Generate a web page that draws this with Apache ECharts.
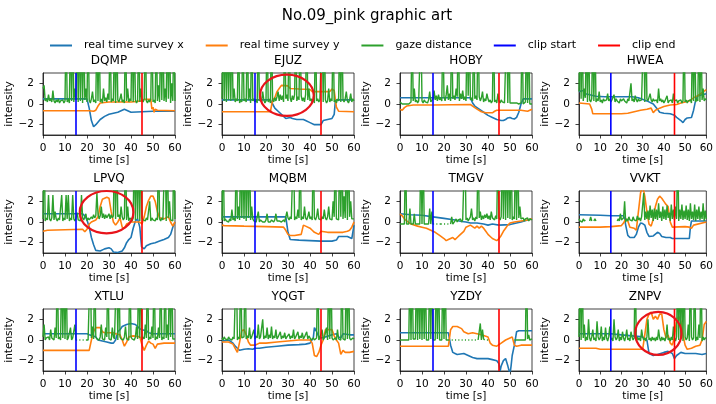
<!DOCTYPE html>
<html>
<head>
<meta charset="utf-8">
<script src="https://cdn.jsdelivr.net/npm/echarts@6/dist/echarts.min.js"></script>
<style>
html, body { margin: 0; padding: 0; background: #fff; }
#main { width: 716px; height: 404px; }
</style>
</head>
<body>
<div id="main"></div>
<script>
var panels = ['DQMP', 'EJUZ', 'HOBY', 'HWEA', 'LPVQ', 'MQBM', 'TMGV', 'VVKT', 'XTLU', 'YQGT', 'YZDY', 'ZNPV'];
var clipStart = 15;
var clipEnd = 45;
var yTicks = [-2, 0, 2];
var gazeStep = 0.5; // seconds between gaze samples

// real time survey x : [time, value] breakpoints
var sxDQMP = [[0,0.5],[20,0.5],[21,-0.4],[22,-1.6],[23,-2.2],[24,-2.0],[26,-1.5],[28,-1.2],[30,-1.0],[32,-0.9],[34,-0.8],[36,-0.6],[37,-0.5],[38,-0.6],[40,-0.8],[45,-0.75],[50,-0.7],[60,-0.7]];
var sxEJUZ = [[0,0.4],[22,0.4],[23,0.0],[24,-0.4],[26,-0.8],[28,-1.2],[29,-1.4],[30,-1.35],[31,-1.3],[32,-1.4],[34,-1.5],[37,-1.5],[38,-1.6],[40,-1.8],[42,-2.0],[45,-2.0],[46,-1.6],[48,-1.5],[50,-1.4],[51,-1.0],[51.5,0.2],[52,0.4],[60,0.4]];
var sxHOBY = [[0,0.6],[32,0.6],[33,0.1],[34,-0.2],[36,-0.5],[38,-0.8],[40,-1.1],[42,-1.3],[44,-1.5],[46,-1.6],[47,-1.6],[48,-1.5],[49,-1.35],[50,-1.3],[51,-1.4],[52,-1.45],[53,-1.3],[54,-0.8],[55,0.0],[56,0.5],[60,0.5]];
var sxHWEA = [[0,1.2],[2,1.3],[3,1.0],[5,0.9],[8,0.75],[12,0.7],[25,0.7],[28,0.6],[32,0.3],[35,0.0],[37,-0.5],[38,-0.8],[40,-0.9],[43,-0.95],[45,-1.1],[46,-1.3],[48,-1.6],[49,-1.8],[50,-1.5],[51,-1.35],[53,-1.3],[54,-0.6],[55,0.4],[56,0.8],[58,0.9],[60,1.0]];
var sxLPVQ = [[0,0.8],[18,0.8],[19,0.6],[20,0.2],[21,-0.5],[22,-1.5],[23,-2.2],[24,-2.75],[26,-2.8],[28,-2.6],[30,-2.5],[31,-2.6],[32,-2.9],[34,-2.95],[36,-2.8],[37,-2.5],[38,-2.0],[39,-1.7],[40,-1.5],[41,-0.6],[42,0.1],[43,0.3],[44,-0.5],[44.8,-2.4],[46,-2.6],[47,-2.3],[49,-2.1],[51,-2.0],[53,-1.85],[55,-1.7],[57,-1.5],[58,-1.2],[59,-0.5],[60,0.0]];
var sxMQBM = [[0,0.5],[29,0.5],[30,-1.0],[31,-1.7],[35,-1.75],[40,-1.8],[45,-1.85],[50,-1.85],[52,-1.75],[53,-1.4],[57,-1.4],[58,-1.5],[59,-1.6],[60,-0.3]];
var sxTMGV = [[0,0.8],[5,0.7],[10,0.65],[15,0.5],[20,0.35],[25,0.2],[28,0.05],[30,0.0],[32,-0.1],[35,-0.1],[38,-0.2],[40,-0.3],[42,-0.2],[45,-0.3],[50,-0.25],[55,0.0],[58,0.2],[60,0.3]];
var sxVVKT = [[0,0.7],[10,0.65],[15,0.6],[21,0.6],[21.5,0.3],[22,-0.3],[23,-1.3],[24,-1.5],[26,-1.5],[27,-1.2],[28,-0.5],[29,-0.1],[30,-0.15],[31,-0.3],[32,-1.0],[33,-1.4],[35,-1.35],[37,-1.0],[38,-1.1],[39,-1.4],[41,-1.5],[43,-1.5],[44,-1.6],[52,-1.6],[52.5,-0.5],[53,0.1],[60,0.1]];
var sxXTLU = [[0,0.6],[20,0.6],[21,0.5],[22,0.45],[24,0.3],[25,0.0],[27,-0.1],[29,-0.2],[31,-0.3],[32,-0.3],[33,0.0],[34,0.8],[35,1.0],[36,1.3],[38,1.5],[40,1.6],[42,1.5],[43,1.3],[44,1.1],[45,1.0],[47,0.9],[48,0.7],[50,0.6],[60,0.6]];
var sxYQGT = [[0,-0.1],[3,0.0],[5,-0.3],[6,-0.6],[7,-0.8],[8,-1.0],[9,-0.95],[10,-0.9],[12,-0.85],[14,-0.9],[15,-0.8],[17,-0.8],[20,-0.7],[25,-0.6],[30,-0.5],[35,-0.45],[38,-0.4],[40,-0.3],[41.5,0.2],[42,1.2],[43,0.8],[44,0.3],[45,0.2],[47,0.3],[50,0.5],[52,0.6],[53,0.3],[54,0.2],[55,0.6],[58,0.5],[60,0.5]];
var sxYZDY = [[0,0.7],[22,0.7],[23,-0.5],[24,-1.2],[25,-1.3],[26,-1.4],[29,-1.3],[30,-1.4],[32,-1.6],[33,-1.7],[35,-1.8],[40,-1.8],[42,-1.9],[44,-2.0],[45,-2.3],[45.5,-3.0],[46,-2.5],[47,-2.0],[48,-1.8],[49,-2.5],[50,-3.3],[50.5,-2.5],[51,-1.5],[52,-0.5],[53,0.8],[54,0.9],[60,0.9]];
var sxZNPV = [[0,0.6],[15,0.6],[20,0.5],[25,0.4],[30,0.3],[32,0.0],[33,-1.3],[35,-1.5],[37,-1.4],[40,-1.2],[42,-1.1],[44,-1.3],[45,-1.8],[46,-1.5],[48,-1.2],[50,-1.3],[55,-1.3],[58,-1.4],[60,-1.3]];

// real time survey y : [time, value] breakpoints
var syDQMP = [[0,-0.65],[21,-0.65],[23,-0.7],[24,-0.6],[25,-0.2],[26,0.1],[30,0.2],[40,0.2],[45,0.3],[46,0.45],[49,0.45],[49.5,-0.5],[50,-0.3],[50.5,-0.8],[51,-0.5],[52,-0.6],[60,-0.65]];
var syEJUZ = [[0,-0.75],[22,-0.75],[23,0.4],[24,0.6],[25,1.2],[26,1.5],[27,1.8],[30,1.75],[31,1.5],[35,1.45],[40,1.4],[41,1.2],[49,1.2],[50,1.45],[51,1.3],[52,-0.3],[53,-0.7],[60,-0.75]];
var syHOBY = [[0,-0.5],[1,-0.6],[2,-0.35],[3,-0.2],[6,-0.1],[15,-0.1],[32,-0.05],[33,-0.2],[35,-0.5],[37,-0.75],[39,-0.85],[42,-0.85],[43,-0.7],[44,-0.6],[50,-0.6],[55,-0.6],[58,-0.7],[60,-0.5]];
var syHWEA = [[0,0.1],[5,0.0],[6,-0.5],[6.5,-0.95],[20,-0.95],[23,-0.9],[26,-0.75],[29,-0.6],[32,-0.5],[34,-0.4],[35,-0.85],[36,-0.6],[38,-0.4],[40,-0.25],[43,-0.1],[46,-0.05],[48,0.1],[50,0.2],[52,0.3],[54,0.6],[56,0.8],[58,1.1],[60,1.4]];
var syLPVQ = [[0,-0.9],[2,-0.8],[10,-0.75],[18,-0.7],[19,-0.95],[20,-0.7],[21,-0.2],[22,0.0],[24,0.2],[25,0.5],[26,1.5],[27,2.2],[29,2.4],[30,2.3],[31,1.0],[32,0.0],[33,-0.3],[34,0.0],[35,0.4],[36,-0.5],[37,-0.6],[38,-0.2],[40,0.0],[44,0.0],[45,-0.2],[46,0.5],[47,1.5],[48,2.1],[49,2.5],[50,2.5],[51,2.0],[52,1.0],[53,0.4],[55,0.3],[57,0.5],[58,0.0],[59,-0.4],[60,0.0]];
var syMQBM = [[0,-0.3],[1,-0.35],[10,-0.4],[20,-0.45],[28,-0.5],[29,-0.8],[30,-1.2],[31,-1.3],[33,-1.3],[36,-1.2],[37,-0.3],[38,-0.4],[40,-0.6],[41,-0.8],[42,-1.0],[44,-1.2],[45,-0.9],[48,-1.0],[52,-1.0],[55,-1.0],[57,-0.9],[58,-0.8],[59,-0.5],[60,0.0]];
var syTMGV = [[0,0.8],[1,0.6],[2,0.3],[3,0.1],[5,-0.2],[8,-0.4],[10,-0.5],[12,-0.6],[14,-0.8],[16,-1.0],[18,-1.3],[20,-1.6],[21,-1.8],[22,-1.7],[24,-1.5],[25,-1.7],[26,-1.5],[27,-1.3],[29,-0.9],[30,-0.5],[32,-0.3],[34,-0.6],[35,-0.4],[36,-0.6],[37,-0.4],[38,-0.6],[39,-0.9],[40,-1.2],[41,-1.4],[42,-1.6],[44,-1.8],[45,-1.6],[46,-1.3],[47,-0.9],[48,-0.6],[49,-0.3],[50,-0.1],[52,0.0],[55,0.1],[58,0.2],[60,0.3]];
var syVVKT = [[0,-0.5],[10,-0.5],[15,-0.45],[20,-0.35],[21,-0.1],[22,0.3],[23,0.1],[24,-0.5],[26,-0.6],[27,-0.8],[28,1.0],[29,2.8],[30,3.5],[31,2.5],[32,1.0],[33,-0.2],[34,-0.4],[35,0.3],[36,1.5],[37,2.2],[38,2.5],[39,2.3],[40,2.0],[41,1.7],[42,1.5],[43,0.0],[44,-0.5],[50,-0.45],[52,-0.5],[53,-0.6],[54,-0.3],[60,0.0]];
var syXTLU = [[0,-1.0],[21,-1.0],[22,0.0],[23,0.8],[24,1.2],[26,1.2],[27,0.8],[28,0.7],[32,0.7],[33,0.6],[35,0.5],[36,0.0],[37,-0.6],[38,-0.2],[39,0.3],[41,0.4],[44,0.3],[45,-0.5],[46,-1.0],[47,-0.5],[48,-0.1],[49,-0.3],[50,-0.4],[51,-0.8],[52,-0.4],[55,-0.3],[60,-0.3]];
var syYQGT = [[0,-0.2],[3,-0.2],[5,-0.4],[6,-0.8],[7,-1.2],[8,-0.2],[9,0.9],[10,1.0],[11,0.5],[12,-0.2],[13,-0.5],[15,-0.5],[17,-0.3],[20,-0.3],[25,-0.2],[30,-0.1],[35,0.0],[40,0.0],[41,-0.3],[42,-1.5],[43,-1.6],[44,-1.2],[45,-0.5],[46,0.0],[47,1.0],[50,1.0],[51,0.4],[52,0.0],[53,-0.3],[54,-1.4],[55,-1.0],[56,-1.2],[58,-1.2],[60,-1.1]];
var syYZDY = [[0,-0.6],[22,-0.6],[23,1.0],[24,1.3],[26,1.3],[28,1.1],[29,0.8],[31,0.6],[33,0.7],[35,0.6],[37,0.5],[40,0.3],[41,-0.3],[42,-0.5],[44,-0.6],[46,-0.3],[48,0.0],[50,0.2],[51,0.3],[52,-0.5],[53,-0.6],[55,-0.5],[60,-0.5]];
var syZNPV = [[0,-0.8],[8,-0.8],[10,-0.9],[30,-0.9],[31,0.5],[32,2.0],[33,2.5],[34,2.7],[35,2.0],[36,2.3],[37,2.0],[38,2.5],[39,2.5],[40,1.0],[41,0.2],[42,0.5],[43,-0.3],[44,-0.5],[45,0.3],[46,2.0],[47,2.3],[48,1.8],[49,0.5],[50,-0.5],[51,-0.9],[53,-0.8],[55,-0.6],[57,-0.5],[58,0.0],[59,1.5],[60,1.8]];

// gaze distance : one value every 0.5 s from 0 to 60 s (10 values per row = 5 s)
var gzDQMP = [
  1.5,1.8,0.3,0.5,0.2,0.9,0.3,0.5,0.2,1.3,
  0.3,0.1,0.4,0.2,0.5,0.1,0.3,0.2,0.4,0.1,
  0.3,8,0.2,0.5,0.1,8,0.3,8,0.2,1.5,
  0.4,8,0.2,8,0.3,8,0.1,8,0.4,1.5,
  0.2,8,0.4,0.1,0.5,1.2,0.2,0.4,0.1,8,
  0.3,8,0.2,0.5,0.1,1.5,0.3,0.6,0.2,1.0,
  0.4,8,0.2,0.5,0.3,8,0.1,8,0.4,0.2,
  0.5,1.0,0.2,0.4,0.1,8,0.3,1.5,0.2,0.5,
  0.3,8,0.2,8,0.4,0.1,0.3,8,0.2,1.5,
  0.4,0.2,0.5,8,0.3,0.1,0.4,0.2,0.5,8,
  0.2,0.4,0.1,8,0.3,1.8,0.2,8,0.4,8,
  0.3,1.5,0.2,8,0.5,8,0.1,2.0,0.3,8,
  0.3];
var gzEJUZ = [
  0.5,8,0.3,8,0.2,8,0.4,8,0.3,8,
  0.4,1.5,0.2,0.5,0.3,8,0.1,0.4,0.2,8,
  0.3,0.5,0.2,8,0.4,1.5,0.1,8,0.3,0.5,
  0.2,0.4,0.1,8,0.3,0.5,0.2,1.2,0.4,0.1,
  0.3,8,0.2,0.5,0.1,8,0.4,0.2,0.6,0.3,
  0.7,1.2,0.3,0.9,0.4,0.8,0.2,8,0.5,0.9,
  0.3,8,0.6,0.2,0.8,0.4,0.9,8,0.3,0.7,
  0.4,8,0.8,0.3,0.6,0.2,0.9,8,0.4,1.5,
  0.3,0.5,0.2,0.4,0.1,8,0.3,0.5,0.2,0.4,
  0.3,8,0.2,8,0.4,0.1,0.3,1.5,0.2,0.5,
  0.3,8,0.2,0.4,0.1,0.5,0.3,8,0.2,8,
  0.4,0.2,0.5,1.2,0.3,0.1,0.4,1.0,0.2,0.5,
  0.3];
var gzHOBY = [
  0.2,0.1,0.0,0.1,0.0,0.1,0.0,0.1,0.0,0.1,
  0.2,8,0.3,1.5,0.2,0.4,0.1,0.3,0.2,8,
  0.3,0.1,0.4,0.2,0.3,0.1,0.4,1.2,0.2,0.3,
  0.5,1.3,0.4,0.8,0.3,0.9,0.4,0.6,0.3,8,
  0.7,0.3,0.9,1.8,0.4,1.0,0.3,8,0.5,0.8,
  0.4,1.5,0.7,8,0.3,1.0,0.5,1.3,0.4,0.7,
  0.3,8,0.8,8,0.4,0.6,0.3,8,0.5,0.8,
  0.4,8,0.7,0.3,0.6,1.2,0.2,0.5,0.3,1.0,
  0.5,0.2,0.4,0.1,0.3,8,0.2,0.4,0.1,1.0,
  0.3,0.1,0.4,0.2,0.3,0.1,0.2,8,0.1,8,
  0.1,0.0,0.1,0.2,0.1,0.0,0.1,0.2,0.0,0.1,
  0.1,8,0.0,0.1,0.2,8,0.1,8,0.0,0.1,
  0.0];
var gzHWEA = [
  1.2,8,0.5,8,0.3,1.5,0.6,8,0.2,8,
  0.4,0.2,0.5,8,0.3,8,0.2,0.5,0.3,1.2,
  0.2,0.4,0.1,0.5,0.3,0.2,0.4,1.0,0.3,0.5,
  0.2,0.4,0.3,0.9,0.2,0.5,0.3,0.4,0.1,0.5,
  0.3,0.2,0.5,0.3,0.4,0.1,0.5,0.3,0.2,2.0,
  0.3,0.5,0.2,0.8,0.4,0.2,0.5,0.3,0.2,0.4,
  0.3,8,0.2,8,0.5,0.3,0.2,1.0,0.4,0.2,
  0.5,0.3,0.2,0.4,0.1,1.5,0.3,0.5,0.2,0.4,
  0.1,0.3,0.2,0.8,0.1,0.3,0.2,0.4,0.1,1.0,
  0.3,0.2,0.4,0.1,0.3,0.2,0.4,0.1,0.3,8,
  0.2,0.4,0.1,0.3,0.2,0.4,0.1,8,0.3,8,
  0.2,0.5,0.3,8,0.2,8,0.4,1.5,0.3,0.5,
  0.4];
var gzLPVQ = [
  0.3,8,0.1,0.4,0.2,2.6,0.3,0.1,0.4,2.6,
  0.2,1.0,0.3,0.1,0.4,0.2,0.3,2.6,0.1,0.4,
  0.2,2.6,0.3,2.6,0.1,0.4,0.2,2.6,0.3,0.1,
  0.4,0.9,0.2,0.3,0.1,2.6,0.4,0.2,0.3,0.8,
  0.1,0.4,0.2,0.3,0.5,0.3,0.7,0.4,0.6,2.8,
  0.8,0.3,0.6,1.5,0.4,0.8,0.3,0.7,0.4,0.6,
  0.8,0.3,0.7,0.4,0.6,8,0.3,8,0.5,0.7,
  0.3,1.5,0.5,0.2,0.4,8,0.2,1.5,0.1,0.4,
  0.3,0.1,0.4,8,0.2,8,0.3,8,0.1,8,
  0.4,0.2,0.3,0.1,0.4,0.2,0.3,2.0,0.1,0.4,
  0.2,0.3,0.1,0.4,0.2,8,0.3,0.1,0.4,0.2,
  0.3,8,0.1,8,0.4,2.0,0.2,0.3,0.1,8,
  0.3];
var gzMQBM = [
  0.2,8,0.1,0.3,0.1,0.2,0.0,0.3,0.1,1.2,
  0.2,0.4,0.1,8,0.3,1.5,0.2,8,0.4,8,
  0.3,8,0.1,8,0.4,8,0.2,1.5,0.3,0.1,
  0.2,0.0,0.1,1.0,0.0,0.2,0.1,0.0,0.1,0.0,
  0.2,0.8,0.0,0.1,0.0,0.2,0.1,0.0,0.2,0.8,
  0.1,0.0,0.1,0.2,0.0,0.1,0.2,0.0,0.1,1.0,
  0.4,0.2,0.5,0.3,0.4,8,0.2,0.5,0.3,1.2,
  0.4,8,0.2,0.5,0.3,1.5,0.4,0.2,0.5,1.0,
  0.3,0.5,0.2,8,0.4,0.2,0.5,1.3,0.3,0.4,
  0.2,0.5,0.3,1.2,0.4,0.2,0.5,1.5,0.3,0.4,
  0.2,2.0,0.5,8,0.3,0.4,0.2,8,0.5,8,
  0.3,2.5,0.4,8,0.2,8,0.5,2.0,0.3,0.4,
  0.3];
var gzTMGV = [
  -0.2,-0.2,-0.2,-0.2,-0.2,8,-0.2,-0.2,-0.2,1.3,
  -0.2,-0.2,-0.2,0.8,-0.2,-0.2,-0.2,-0.2,-0.2,8,
  -0.2,8,-0.2,-0.2,-0.2,-0.2,-0.2,1.3,-0.2,1.0,
  -0.2,-0.2,null,-0.2,-0.2,null,-0.2,-0.2,-0.2,null,
  -0.2,-0.2,null,-0.2,-0.2,null,-0.2,0.5,-0.2,-0.2,
  0.1,0.3,0.0,0.2,0.1,0.3,0.0,0.2,0.1,8,
  0.2,0.4,0.1,0.3,0.5,1.3,0.2,0.4,0.1,0.5,
  0.3,8,0.4,1.0,0.2,0.6,0.3,0.7,0.4,0.8,
  0.3,0.6,0.2,1.0,0.4,0.5,0.2,0.6,0.3,8,
  0.4,0.2,0.5,8,0.3,8,0.2,8,0.4,8,
  0.3,8,0.2,0.5,0.3,8,0.2,8,0.4,1.5,
  0.3,0.2,0.4,0.1,0.3,0.2,0.4,0.1,0.3,0.2,
  0.2];
var gzVVKT = [
  0.3,0.1,0.2,0.0,0.3,0.1,0.2,null,null,null,
  0.1,0.5,0.1,null,0.1,0.3,0.1,null,null,null,
  null,null,null,null,null,null,null,null,null,null,
  null,null,null,null,null,null,0.1,0.3,0.1,0.8,
  0.2,0.1,0.4,2.0,0.0,0.3,0.1,0.5,0.2,0.3,
  0.1,0.5,0.2,0.3,0.1,0.6,0.2,0.4,0.1,0.5,
  0.6,2.8,0.2,1.0,0.3,1.1,0.2,1.6,0.4,1.2,
  0.1,1.3,0.3,1.2,0.2,1.8,0.4,1.0,0.1,1.5,
  0.3,1.2,0.2,1.6,0.4,0.9,0.1,1.7,0.3,1.2,
  0.2,1.5,0.3,8,0.1,1.2,0.3,1.7,0.2,1.1,
  0.3,1.6,0.2,1.2,0.1,1.8,0.3,1.0,0.2,1.7,
  0.1,1.2,0.3,1.5,0.2,1.0,0.3,1.8,0.1,1.1,
  0.3];
var gzXTLU = [
  0.3,1.5,0.0,0.2,0.1,0.3,0.0,1.0,0.2,0.1,
  0.0,1.2,0.2,8,0.1,0.3,0.0,8,0.2,8,
  0.1,8,0.0,0.2,0.1,1.2,0.0,0.2,0.1,1.5,
  0.0,0.0,null,0.0,0.0,null,0.0,0.0,null,0.0,
  0.0,0.0,0.1,8,0.2,1.3,0.1,8,0.3,0.1,
  0.2,0.0,0.3,1.5,0.1,0.2,0.0,1.2,0.3,8,
  0.1,0.2,0.0,1.2,0.3,0.1,0.2,8,0.0,8,
  0.3,0.1,0.2,0.0,0.3,1.3,0.1,0.2,0.0,8,
  0.3,0.1,0.2,0.0,0.3,1.3,0.1,8,0.2,8,
  0.0,0.3,0.1,1.5,0.2,8,0.0,0.3,0.1,1.3,
  0.2,8,0.0,0.3,0.1,1.2,0.2,8,0.0,0.3,
  0.1,8,0.2,1.5,0.0,8,0.3,8,0.1,0.2,
  0.1];
var gzYQGT = [
  0.2,0.0,0.3,0.1,0.2,0.0,0.3,0.1,0.2,0.0,
  0.3,0.1,0.2,8,0.0,0.3,0.1,8,0.2,0.1,
  0.3,8,0.1,0.4,0.2,1.2,0.1,0.3,0.2,1.0,
  0.1,0.4,0.2,1.5,0.1,0.3,0.2,2.0,0.1,0.4,
  0.2,1.2,0.1,0.5,0.2,1.3,0.1,0.4,0.2,1.0,
  0.1,0.3,0.2,0.8,0.1,0.4,0.2,0.7,0.1,0.3,
  0.2,0.6,0.1,0.4,0.2,1.0,0.1,0.3,0.2,0.8,
  0.1,0.4,0.2,0.7,0.1,0.3,0.2,0.8,0.1,0.4,
  0.2,0.0,0.1,0.2,0.0,0.1,0.2,8,0.0,0.2,
  0.1,1.0,0.0,0.2,0.1,1.2,0.0,8,0.1,8,
  0.2,0.0,0.1,0.2,0.0,1.0,0.1,0.2,0.0,8,
  0.1,0.2,0.0,8,0.1,8,0.2,0.0,0.1,0.2,
  0.1];
var gzYZDY = [
  0.0,0.1,0.0,0.1,0.0,0.1,0.0,0.1,0.0,8,
  0.0,8,0.1,0.0,0.1,8,0.0,8,0.1,8,
  0.0,8,0.1,8,0.0,0.1,0.0,8,0.1,8,
  0.0,0.1,0.0,8,0.1,8,0.0,0.1,0.0,8,
  0.1,8,0.0,0.1,0.0,0.0,null,0.0,0.0,null,
  0.0,0.0,null,0.0,0.0,null,0.0,0.0,null,0.0,
  0.0,null,0.0,0.0,null,0.0,0.0,null,0.0,0.0,
  null,0.0,0.1,1.6,0.0,1.0,0.1,0.0,null,0.0,
  0.0,null,null,null,null,null,null,null,null,null,
  null,null,null,null,null,null,null,null,null,null,
  null,null,null,null,0.0,0.1,0.0,0.1,0.0,0.1,
  0.0,0.1,0.0,0.1,0.0,8,0.1,0.5,0.0,0.1,
  0.1];
var gzZNPV = [
  0.3,8,0.0,8,0.2,1.5,-0.1,0.3,0.0,2.0,
  0.2,-0.1,0.3,1.0,0.0,0.2,-0.1,1.8,0.3,0.0,
  0.2,1.3,-0.1,0.3,0.0,1.2,0.2,-0.1,0.3,1.3,
  0.0,0.2,-0.1,2.0,0.3,0.0,0.2,1.0,-0.1,0.3,
  0.0,0.8,0.2,-0.1,0.3,1.0,0.0,0.2,-0.1,0.8,
  0.3,0.0,0.2,8,-0.1,0.3,0.0,0.2,-0.1,1.0,
  0.3,0.0,0.2,-0.1,0.3,2.0,0.0,0.2,-0.1,0.3,
  0.0,0.2,-0.1,0.3,0.0,1.0,0.2,-0.1,0.3,0.0,
  0.2,-0.1,0.3,1.5,0.0,0.2,-0.1,0.3,0.0,1.3,
  0.2,-0.1,0.3,8,0.0,8,0.2,8,-0.1,8,
  0.3,0.0,0.2,1.5,-0.1,8,0.3,0.0,0.2,8,
  -0.1,0.3,0.0,1.5,0.2,8,-0.1,0.3,0.0,0.2,
  0.2];

// red rings drawn on three panels: [centre time, centre value, half width (s), half height]
var ringPanels = ['EJUZ', 'LPVQ', 'ZNPV'];
var ringShapes = [[29.5, 0.85, 12.2, 2.0], [28.9, 0.95, 12.2, 2.05], [37.4, 0.64, 10.9, 2.08]];

var surveyX = [sxDQMP, sxEJUZ, sxHOBY, sxHWEA, sxLPVQ, sxMQBM, sxTMGV, sxVVKT, sxXTLU, sxYQGT, sxYZDY, sxZNPV];
var surveyY = [syDQMP, syEJUZ, syHOBY, syHWEA, syLPVQ, syMQBM, syTMGV, syVVKT, syXTLU, syYQGT, syYZDY, syZNPV];
var gaze = [gzDQMP, gzEJUZ, gzHOBY, gzHWEA, gzLPVQ, gzMQBM, gzTMGV, gzVVKT, gzXTLU, gzYQGT, gzYZDY, gzZNPV];

var FONT = 'DejaVu Sans';
var colLeft = [43, 222, 400, 579];
var rowTop = [73, 191, 309];
var cellW = 132, cellH = 62;
var yMin = -3, yMax = 3;

var grids = [], xAxes = [], yAxes = [], series = [];
var titles = [{
  text: 'No.09_pink graphic art',
  left: 367, top: 9, textAlign: 'center', padding: 0,
  textStyle: { fontFamily: FONT, fontSize: 15, fontWeight: 'normal', color: '#000' }
}];

panels.forEach(function (name, i) {
  var col = i % 4, row = Math.floor(i / 4);
  grids.push({
    left: colLeft[col], top: rowTop[row], width: cellW, height: cellH,
    show: true, borderColor: '#111', borderWidth: 0.8, backgroundColor: 'transparent'
  });
  titles.push({
    text: name, left: colLeft[col] + cellW / 2, top: rowTop[row] - 18, textAlign: 'center', padding: 0,
    textStyle: { fontFamily: FONT, fontSize: 12, fontWeight: 'normal', color: '#000' }
  });
  xAxes.push({
    gridIndex: i, type: 'value', min: 0, max: 60, interval: 10,
    name: 'time [s]', nameLocation: 'middle', nameGap: 20,
    nameTextStyle: { fontFamily: FONT, fontSize: 10.5, color: '#000' },
    axisLine: { show: true, onZero: false, lineStyle: { color: '#111', width: 0.8 } },
    axisTick: { show: true, length: 3.5, lineStyle: { color: '#111', width: 0.8 } },
    axisLabel: { margin: 8, fontFamily: FONT, fontSize: 10.5, color: '#000' },
    splitLine: { show: false }
  });
  yAxes.push({
    gridIndex: i, type: 'value', min: yMin, max: yMax,
    name: 'intensity', nameLocation: 'middle', nameGap: 18,
    nameTextStyle: { fontFamily: FONT, fontSize: 10.5, color: '#000' },
    axisLine: { show: true, onZero: false, lineStyle: { color: '#111', width: 0.8 } },
    axisTick: { show: true, length: 3.5, customValues: yTicks, lineStyle: { color: '#111', width: 0.8 } },
    axisLabel: {
      margin: 9, fontFamily: FONT, fontSize: 10.5, color: '#000', customValues: yTicks,
      formatter: function (v) { return String(v).replace('-', '\u2212'); }
    },
    splitLine: { show: false }
  });
  series.push({
    name: 'real time survey x', type: 'line', xAxisIndex: i, yAxisIndex: i,
    data: surveyX[i], symbol: 'none', lineStyle: { color: '#1f77b4', width: 1.6 }, itemStyle: { color: '#1f77b4' }
  });
  series.push({
    name: 'real time survey y', type: 'line', xAxisIndex: i, yAxisIndex: i,
    data: surveyY[i], symbol: 'none', lineStyle: { color: '#ff7f0e', width: 1.6 }, itemStyle: { color: '#ff7f0e' }
  });
  series.push({
    name: 'gaze distance', type: 'line', xAxisIndex: i, yAxisIndex: i,
    data: gaze[i].map(function (v, k) { return [k * gazeStep, v]; }), symbol: 'none',
    lineStyle: { color: '#2ca02c', width: 1.4 }, itemStyle: { color: '#2ca02c' }
  });
  series.push({
    name: 'clip start', type: 'line', xAxisIndex: i, yAxisIndex: i,
    data: [[clipStart, yMin], [clipStart, yMax]], symbol: 'none',
    lineStyle: { color: '#0000ff', width: 1.6 }, itemStyle: { color: '#0000ff' }
  });
  series.push({
    name: 'clip end', type: 'line', xAxisIndex: i, yAxisIndex: i,
    data: [[clipEnd, yMin], [clipEnd, yMax]], symbol: 'none',
    lineStyle: { color: '#ff0000', width: 1.6 }, itemStyle: { color: '#ff0000' }
  });
  var r = ringPanels.indexOf(name);
  if (r >= 0) {
    series.push({
      type: 'custom', xAxisIndex: i, yAxisIndex: i, silent: true, z: 5,
      data: [ringShapes[r]],
      renderItem: function (params, api) {
        var c = api.coord([api.value(0), api.value(1)]);
        var s = api.size([api.value(2), api.value(3)]);
        return {
          type: 'ellipse',
          shape: { cx: c[0], cy: c[1], rx: s[0], ry: s[1] },
          style: { fill: 'none', stroke: '#e8141b', lineWidth: 2.2 }
        };
      }
    });
  }
});

var myChart = echarts.init(document.getElementById('main'));
var option = {
  backgroundColor: '#fff',
  animation: false,
  title: titles,
  legend: {
    data: ['real time survey x', 'real time survey y', 'gaze distance', 'clip start', 'clip end'],
    icon: 'rect', left: 50, top: 40, padding: 0, itemWidth: 22, itemHeight: 2, itemGap: 22,
    textStyle: { fontFamily: FONT, fontSize: 11, color: '#000', padding: [0, 0, 0, 7] }
  },
  grid: grids,
  xAxis: xAxes,
  yAxis: yAxes,
  series: series
};
myChart.setOption(option);
window.onresize = function () { myChart.resize(); };
</script>
</body>
</html>
